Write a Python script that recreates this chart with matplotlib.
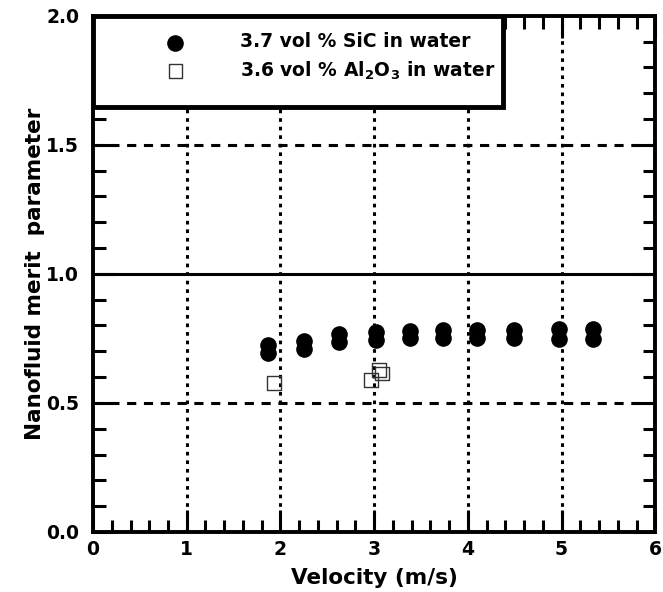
import numpy as np
import matplotlib.pyplot as plt
from matplotlib.patches import Rectangle
from matplotlib.ticker import MultipleLocator

plt.rcParams['font.family'] = ['DejaVu Sans']
plt.rcParams['font.weight'] = 'bold'
plt.rcParams['axes.labelweight'] = 'bold'
plt.rcParams['mathtext.fontset'] = 'dejavusans'
plt.rcParams['mathtext.default'] = 'bf'

# SiC data: two readings per velocity
sic_v = [1.87, 1.87, 2.25, 2.25, 2.63, 2.63, 3.02, 3.02, 3.38, 3.38,
         3.73, 3.73, 4.10, 4.10, 4.49, 4.49, 4.97, 4.97, 5.34, 5.34]
sic_m = [0.723, 0.693, 0.738, 0.710, 0.768, 0.735, 0.775, 0.742, 0.780, 0.752,
         0.783, 0.750, 0.783, 0.752, 0.783, 0.750, 0.785, 0.748, 0.785, 0.747]

al_v = [1.93, 2.97, 3.05, 3.08]
al_m = [0.577, 0.588, 0.627, 0.614]

xticks = [0, 1, 2, 3, 4, 5, 6]
yticks = [0.0, 0.5, 1.0, 1.5, 2.0]

fig = plt.figure(figsize=(6.63, 5.92), dpi=100)
ax = fig.add_axes([0.1403, 0.1014, 0.848, 0.872])

# grid lines
for x in [1, 2, 3, 4, 5]:
    ax.axvline(x, color='black', lw=2.2, ls=(0, (1.2, 1.6)), zorder=1)
for y in [0.5, 1.5]:
    ax.axhline(y, color='black', lw=2.2, ls=(0, (3, 2.5)), zorder=1)
ax.axhline(1.0, color='black', lw=2.2, zorder=1)

ax.scatter(sic_v, sic_m, s=120, marker='o', color='black', zorder=3)
ax.scatter(al_v, al_m, s=100, marker='s', facecolor='none', edgecolor='#333333',
           linewidths=1.0, zorder=4)

ax.set_xlim(0, 6)
ax.set_ylim(0, 2)
ax.set_xticks(xticks)
ax.set_yticks(yticks)
ax.set_xticklabels([str(t) for t in xticks])
ax.set_yticklabels([f'{t:.1f}' for t in yticks])
ax.xaxis.set_minor_locator(MultipleLocator(0.2))
ax.yaxis.set_minor_locator(MultipleLocator(0.1))
ax.tick_params(which='both', direction='in', top=True, right=True, width=2.2,
               labelsize=13.5, colors='black')
ax.tick_params(which='major', length=16)
ax.tick_params(which='minor', length=9)
ax.tick_params(axis='x', pad=6)
ax.tick_params(axis='y', pad=10)
for s in ax.spines.values():
    s.set_linewidth(2.8)

ax.set_xlabel('Velocity (m/s)', fontsize=15.5, labelpad=6)
ax.set_ylabel('Nanofluid merit  parameter', fontsize=15.5, labelpad=1)

# legend box
ax.add_patch(Rectangle((0, 1.645), 4.38, 0.355, facecolor='white',
                       edgecolor='black', lw=3.5, zorder=5))
ax.scatter([0.88], [1.895], s=120, marker='o', color='black', zorder=6)
ax.scatter([0.88], [1.785], s=100, marker='s', facecolor='none',
           edgecolor='#333333', linewidths=1.0, zorder=6)
ax.text(1.57, 1.9, '3.7 vol % SiC in water', fontsize=13.5, va='center', zorder=6)
ax.text(1.57, 1.787, r'3.6 vol % Al$_{2}$O$_{3}$ in water',
        fontsize=13.5, va='center', zorder=6)

fig.savefig('out.png', dpi=100)
